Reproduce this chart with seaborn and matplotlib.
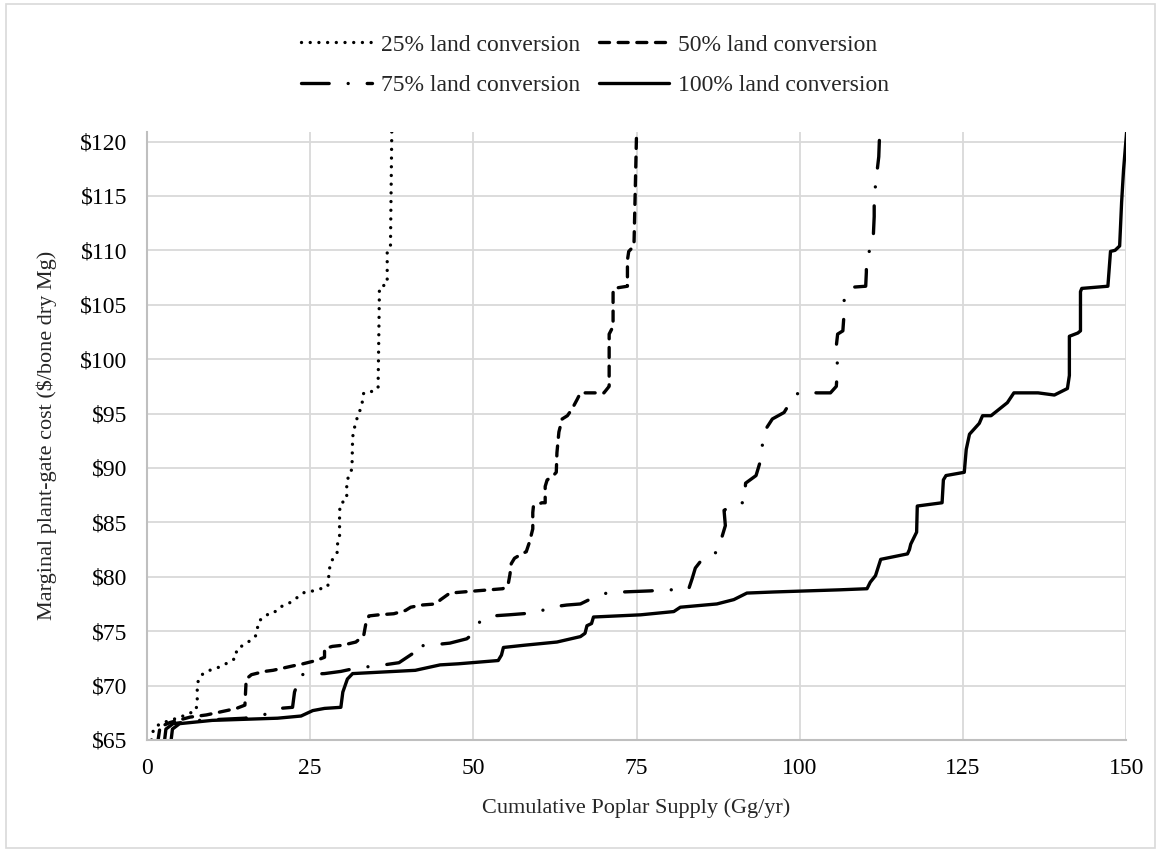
import matplotlib
matplotlib.use("Agg")
import matplotlib.pyplot as plt
from matplotlib.patches import Rectangle
import seaborn as sns

# ── DATA ──────────────────────────────────────────────────────────────────────
supply_25 = [0.7, 1.0, 2.0, 5.1, 6.3, 7.5, 7.7, 7.7, 7.9, 8.6, 9.6, 10.7, 11.7, 12.8,
             13.7, 13.7, 14.7, 15.5, 16.6, 16.9, 17.1, 18.3, 19.3, 20.3, 21.6, 22.8,
             24.2, 25.5, 26.6, 27.7, 27.8, 27.9, 28.1, 28.6, 29.2, 29.2, 29.5, 29.5,
             29.6, 30.6, 30.6, 30.9, 31.4, 31.5, 31.7, 32.0, 32.3, 32.7, 33.0, 33.2,
             34.3, 35.4, 35.6, 35.6, 36.8, 36.8, 37.3, 37.5]
cost_25 = [65.0, 66.0, 66.5, 67.1, 67.4, 67.7, 68.5, 69.9, 70.6, 71.1, 71.4, 71.6, 71.9,
           72.2, 72.6, 73.3, 73.7, 74.0, 74.5, 75.2, 75.9, 76.5, 76.6, 77.2, 77.5, 78.0,
           78.6, 78.7, 78.9, 79.1, 79.7, 80.5, 81.2, 81.8, 82.3, 83.1, 83.8, 85.9, 86.7,
           87.1, 88.6, 89.3, 89.9, 92.8, 93.5, 94.2, 94.8, 95.4, 96.1, 96.9, 97.0, 97.3,
           106.0, 106.6, 106.9, 109.8, 110.4, 120.9]

supply_50 = [1.7, 2.0, 3.5, 6.6, 9.1, 12.2, 13.7, 15.0, 15.1, 15.2, 16.0, 18.0, 19.3,
             20.8, 22.3, 23.9, 25.9, 27.2, 27.2, 28.4, 29.9, 32.0, 33.2, 33.5, 34.0,
             35.5, 37.8, 39.6, 40.4, 42.1, 44.2, 45.0, 46.4, 48.4, 50.4, 52.5, 54.5,
             55.3, 55.6, 55.8, 56.3, 57.4, 58.1, 58.6, 59.1, 59.1, 59.2, 60.5, 61.0,
             61.0, 61.3, 62.1, 62.7, 62.8, 63.1, 63.6, 64.4, 65.1, 65.9, 66.4, 70.0,
             70.8, 70.8, 70.8, 71.4, 71.4, 71.5, 73.6, 73.6, 73.8, 74.6, 75.0]
cost_50 = [65.0, 66.2, 66.6, 67.1, 67.3, 67.7, 67.9, 68.2, 69.4, 70.6, 71.0, 71.3, 71.4,
           71.6, 71.8, 72.0, 72.3, 72.6, 73.4, 73.6, 73.7, 74.0, 74.6, 75.6, 76.4, 76.5,
           76.6, 76.9, 77.2, 77.4, 77.5, 77.9, 78.5, 78.6, 78.7, 78.8, 78.9, 79.2, 80.2,
           81.2, 81.7, 82.1, 82.3, 83.2, 84.4, 85.9, 86.5, 86.8, 86.8, 88.3, 88.9, 89.2,
           89.6, 91.4, 93.3, 94.5, 94.8, 95.4, 96.3, 96.9, 96.9, 97.5, 101.8, 102.3,
           103.0, 106.1, 106.5, 106.7, 109.1, 109.9, 110.4, 120.9]

supply_75 = [2.7, 2.9, 4.0, 8.0, 15.0, 18.5, 20.3, 22.3, 22.6, 23.4, 23.4, 27.2, 29.7,
             32.0, 36.3, 38.6, 40.6, 40.6, 43.1, 46.4, 49.0, 50.0, 50.5, 51.0, 52.9,
             55.4, 59.7, 61.8, 64.3, 66.4, 68.1, 70.4, 72.8, 77.1, 79.6, 82.5, 83.0,
             83.5, 84.0, 85.3, 87.5, 87.9, 88.6, 88.4, 90.2, 91.5, 91.7, 93.3, 94.0,
             94.5, 95.8, 97.6, 99.1, 100.1, 102.6, 104.7, 105.6, 105.8, 105.5, 105.8,
             106.6, 106.8, 106.8, 107.8, 110.1, 110.2, 110.2, 111.2, 111.4, 111.4,
             111.6, 112.1, 112.2]
cost_75 = [65.0, 66.0, 66.5, 66.8, 67.0, 67.4, 67.9, 68.0, 69.4, 70.8, 71.0, 71.1, 71.3,
           71.6, 71.9, 72.1, 72.9, 73.6, 73.7, 73.9, 74.3, 74.8, 75.2, 75.9, 76.4, 76.5,
           76.7, 77.2, 77.4, 77.5, 78.0, 78.5, 78.6, 78.7, 78.8, 78.8, 78.9, 79.8, 80.8,
           81.8, 82.3, 83.3, 84.7, 86.1, 86.8, 86.8, 88.6, 89.3, 90.7, 93.3, 94.5, 95.1,
           96.6, 97.0, 96.9, 96.9, 97.5, 99.4, 100.7, 102.3, 102.6, 104.3, 105.6, 106.6,
           106.7, 108.0, 109.5, 110.4, 113.1, 114.5, 116.0, 118.6, 120.2]

supply_100 = [3.7, 3.9, 5.0, 10.0, 20.0, 23.6, 25.4, 27.2, 29.7, 30.0, 30.7, 31.5, 41.1,
              44.9, 47.7, 53.8, 54.3, 54.6, 57.7, 62.8, 66.4, 67.1, 67.4, 68.1, 68.4,
              75.6, 80.7, 81.7, 87.3, 89.9, 91.9, 96.0, 106.2, 110.3, 110.8, 111.6,
              112.4, 116.5, 116.8, 117.0, 117.9, 118.0, 121.8, 122.0, 122.4, 125.2,
              125.5, 126.0, 127.5, 128.0, 129.3, 131.8, 132.8, 136.5, 139.0, 141.0,
              141.3, 141.3, 142.6, 143.0, 143.0, 143.2, 147.2, 147.6, 148.3, 149.0,
              149.3, 149.6, 150.1]
cost_100 = [65.0, 66.0, 66.5, 66.8, 67.0, 67.2, 67.7, 67.9, 68.0, 69.4, 70.6, 71.1, 71.4,
            71.9, 72.0, 72.3, 72.8, 73.5, 73.7, 74.0, 74.5, 74.8, 75.5, 75.7, 76.3, 76.5,
            76.8, 77.2, 77.5, 77.9, 78.5, 78.6, 78.8, 78.9, 79.5, 80.1, 81.6, 82.1, 82.5,
            83.0, 84.1, 86.5, 86.8, 88.9, 89.3, 89.6, 91.7, 93.1, 94.1, 94.8, 94.8, 96.0,
            96.9, 96.9, 96.7, 97.3, 98.5, 102.1, 102.4, 102.6, 106.2, 106.5, 106.7, 109.9,
            110.0, 110.4, 114.4, 117.4, 121.1]

series_labels = ["25% land conversion", "50% land conversion",
                 "75% land conversion", "100% land conversion"]
y_ticks = list(range(65, 121, 5))
x_ticks = list(range(0, 151, 25))

# ── STYLE ─────────────────────────────────────────────────────────────────────
sns.set_theme(style="whitegrid")
plt.rcParams["font.family"] = ["Liberation Serif", "DejaVu Serif"]
plt.rcParams["grid.color"] = "#d9d9d9"
plt.rcParams["grid.linewidth"] = 1.3

fig = plt.figure(figsize=(11.61, 8.52), dpi=100)
ax = fig.add_axes([0.1266, 0.1315, 0.8434, 0.7139])

# Excel-like patterns: round dot, dash, long dash-dot, solid
styles = [(0.01, 2.6), (3.0, 2.6), (8.3, 5.7, 0.01, 5.7), None]
series = [(supply_25, cost_25), (supply_50, cost_50),
          (supply_75, cost_75), (supply_100, cost_100)]

handles = []
for (xs, ys), lab, dash in zip(series, series_labels, styles):
    sns.lineplot(x=xs, y=ys, sort=False, estimator=None, ax=ax,
                 color="black", linewidth=2.4, label=lab)
    line = ax.lines[-1]
    if dash:
        line.set_dashes(dash)
    line.set_dash_capstyle("round")
    line.set_solid_capstyle("round")
    line.set_solid_joinstyle("round")
    handles.append(line)

ax.set_xlim(0, 150)
ax.set_ylim(65, 120.9)
ax.set_xticks(x_ticks)
ax.set_yticks(y_ticks)
ax.set_yticklabels([f"${v}" for v in y_ticks])
ax.tick_params(axis="both", labelsize=17, colors="black", length=0)
ax.tick_params(axis="y", pad=14)
ax.tick_params(axis="x", pad=13)
ax.set_xlabel("Cumulative Poplar Supply (Gg/yr)", fontsize=16, labelpad=14)
ax.set_ylabel("Marginal plant-gate cost ($/bone dry Mg)", fontsize=16, labelpad=17)

for s in ["top", "right"]:
    ax.spines[s].set_visible(False)
for s in ["left", "bottom"]:
    ax.spines[s].set_color("#bfbfbf")
    ax.spines[s].set_linewidth(1.5)
ax.grid(True, color="#d9d9d9", linewidth=1.3)

ax.get_legend().remove()
order = [0, 2, 1, 3]
fig.legend([handles[i] for i in order], [series_labels[i] for i in order],
           loc="center", bbox_to_anchor=(0.5125, 0.9237), ncol=2,
           frameon=False, fontsize=17, handlelength=3.0, handletextpad=0.35,
           columnspacing=0.8, labelspacing=0.8, borderpad=0.2)

fig.add_artist(Rectangle((0.005, 0.005), 0.99, 0.99, transform=fig.transFigure,
                         fill=False, edgecolor="#d9d9d9", linewidth=1.2))

fig.savefig("out.png", dpi=100)
